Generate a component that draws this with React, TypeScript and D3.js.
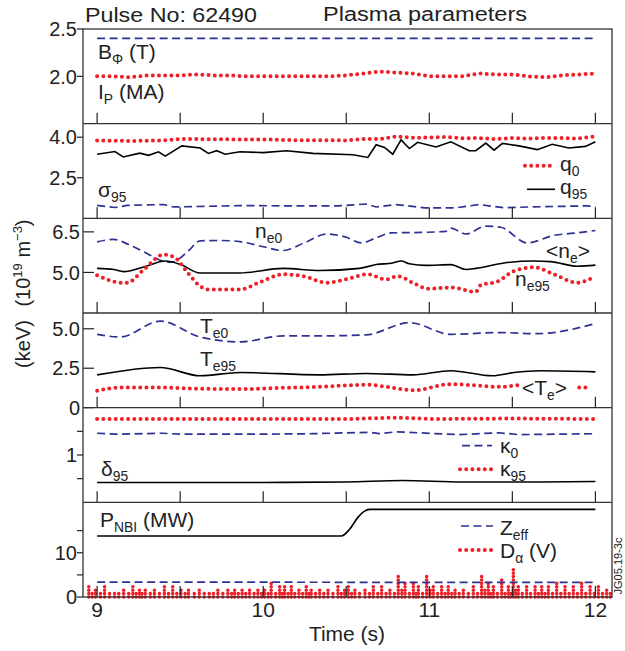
import * as d3 from 'd3';

const FONT = 'Liberation Sans, Arial, Helvetica, sans-serif';
const RED = '#ee1f26';
const BLUE = '#2e3192';

// time base (s)
const t01 = [9.0, 9.1, 9.2, 9.3, 9.4, 9.5, 9.6, 9.7, 9.8, 9.9, 10.0, 10.1, 10.2, 10.3, 10.4, 10.5,
  10.6, 10.7, 10.8, 10.9, 11.0, 11.1, 11.2, 11.3, 11.4, 11.5, 11.6, 11.7, 11.8, 11.9, 12.0];
const timeLabels = [9, 10, 11, 12];
const timeTicks = [9, 9.5, 10, 10.5, 11, 11.5, 12];

// panel 1: B_phi (T), I_P (MA)
const bphiT = [9, 9.5, 10, 10.5, 11, 11.5, 12];
const bphiV = [2.4, 2.4, 2.4, 2.4, 2.4, 2.4, 2.4];
const ipV = [2.0, 2.0, 1.99, 2.01, 2.01, 2.01, 2.02, 2.01, 2.01, 2.0, 2.0, 2.0, 2.0, 2.0, 2.0, 2.01,
  2.03, 2.05, 2.04, 2.03, 2.0, 2.0, 2.0, 2.03, 2.02, 2.02, 2.0, 1.99, 2.01, 2.02, 2.03];

// panel 2: q0, q95, sigma95
const q0V = [3.88, 3.87, 3.86, 3.87, 3.88, 3.93, 3.93, 3.92, 3.92, 3.91, 3.92, 3.9, 3.89, 3.89, 3.89, 3.88,
  3.93, 3.93, 4.03, 3.98, 3.99, 4.01, 3.96, 3.97, 3.93, 3.97, 3.95, 3.97, 3.97, 3.95, 4.03];
const q95T = [9.0, 9.107, 9.157, 9.257, 9.31, 9.37, 9.41, 9.51, 9.62, 9.67, 9.72, 9.77, 9.86, 10.0, 10.14,
  10.3, 10.54, 10.63, 10.68, 10.73, 10.78, 10.83, 10.88, 10.93, 11.04, 11.13, 11.24, 11.28, 11.34, 11.39,
  11.44, 11.54, 11.65, 11.74, 11.84, 11.94, 12.0];
const q95V = [3.37, 3.47, 3.27, 3.41, 3.33, 3.46, 3.3, 3.68, 3.6, 3.4, 3.5, 3.37, 3.46, 3.43, 3.5,
  3.4, 3.35, 3.25, 3.72, 3.62, 3.37, 3.9, 3.58, 3.81, 3.64, 3.83, 3.5, 3.5, 3.78, 3.52,
  3.77, 3.68, 3.54, 3.74, 3.6, 3.66, 3.83];
const sigT = [9.0, 9.11, 9.18, 9.4, 9.46, 9.86, 10.2, 10.45, 10.62, 10.68, 10.8, 10.97, 11.16, 11.3, 11.45, 11.6, 11.95, 12.0];
const sigV = [1.48, 1.4, 1.48, 1.51, 1.42, 1.47, 1.46, 1.46, 1.53, 1.42, 1.51, 1.39, 1.39, 1.51, 1.39, 1.42, 1.46, 1.43];

// panel 3: densities (1e19 m^-3)
const ne0T = [9.0, 9.1, 9.2, 9.3, 9.38, 9.45, 9.55, 9.62, 9.75, 9.86, 10.0, 10.12, 10.25, 10.38, 10.5, 10.59,
  10.68, 10.77, 10.95, 11.1, 11.13, 11.22, 11.34, 11.43, 11.59, 11.75, 11.87, 12.0];
const ne0V = [6.13, 6.22, 6.0, 5.7, 5.45, 5.38, 5.8, 6.17, 6.18, 6.14, 5.95, 5.81, 6.1, 6.42, 6.3, 6.09,
  6.28, 6.46, 6.48, 6.52, 6.64, 6.42, 6.71, 6.67, 6.09, 6.37, 6.45, 6.55];
const neAvgT = [9.0, 9.1, 9.16, 9.28, 9.41, 9.5, 9.62, 9.86, 10.12, 10.34, 10.58, 10.68, 10.78, 10.83, 10.88,
  10.98, 11.13, 11.22, 11.28, 11.45, 11.63, 11.73, 11.89, 12.0];
const neAvgV = [5.15, 5.11, 5.03, 5.2, 5.42, 5.3, 4.98, 4.98, 5.15, 5.07, 5.15, 5.29, 5.35, 5.42, 5.32,
  5.26, 5.29, 5.11, 5.15, 5.35, 5.42, 5.4, 5.23, 5.27];
const ne95T = [9.0, 9.07, 9.14, 9.18, 9.28, 9.4, 9.46, 9.55, 9.62, 9.67, 9.86, 9.98, 10.12, 10.25, 10.38, 10.5,
  10.63, 10.74, 10.81, 10.9, 10.99, 11.14, 11.28, 11.31, 11.41, 11.51, 11.63, 11.75, 11.89, 12.0];
const ne95V = [4.9, 4.72, 4.62, 4.62, 5.1, 5.66, 5.58, 4.95, 4.49, 4.37, 4.37, 4.64, 4.93, 4.85, 4.62, 4.75,
  4.93, 4.74, 4.86, 4.62, 4.4, 4.44, 4.28, 4.53, 4.66, 5.05, 5.19, 4.93, 4.62, 4.86];

// panel 4: temperatures (keV)
const te0T = [9.0, 9.14, 9.38, 9.62, 9.86, 10.12, 10.34, 10.62, 10.88, 11.13, 11.43, 11.65, 12.0];
const te0V = [4.65, 4.48, 5.49, 4.48, 4.17, 4.55, 4.55, 4.61, 5.39, 4.65, 4.76, 4.69, 5.33];
const te95T = [9.0, 9.38, 9.62, 9.86, 10.34, 10.62, 10.9, 11.13, 11.38, 11.51, 11.67, 12.0];
const te95V = [2.08, 2.55, 2.02, 2.23, 2.08, 2.17, 2.08, 2.34, 2.02, 2.23, 2.34, 2.27];
const teAvgT = [9.0, 9.14, 9.38, 9.62, 9.86, 10.1, 10.34, 10.62, 10.91, 11.13, 11.43, 11.57, 11.75, 11.97];
const teAvgV = [1.07, 1.28, 1.28, 1.2, 1.18, 1.25, 1.32, 1.45, 1.11, 1.49, 1.32, 1.45, 1.3, 1.28];

// panel 5: shape
const kap95T = [9, 9.5, 10, 10.5, 10.8, 11, 11.5, 12];
const kap95V = [1.76, 1.76, 1.76, 1.76, 1.79, 1.76, 1.77, 1.76];
const kap0T = [9.0, 9.11, 9.39, 9.5, 10.0, 10.3, 10.64, 10.7, 10.8, 11.18, 11.42, 11.54, 12.0];
const kap0V = [1.46, 1.44, 1.46, 1.44, 1.44, 1.45, 1.48, 1.45, 1.49, 1.43, 1.47, 1.43, 1.45];
const del95T = [9, 9.5, 10, 10.5, 10.84, 11.2, 11.6, 12];
const del95V = [0.42, 0.42, 0.42, 0.43, 0.46, 0.43, 0.43, 0.44];

// panel 6: heating, Zeff, D-alpha
const pnbiT = [9.0, 10.47, 10.52, 10.57, 10.61, 10.64, 12.0];
const pnbiV = [13.8, 13.8, 15.3, 18.0, 19.4, 19.8, 19.8];
const zeffT = [9, 10, 11, 12];
const zeffV = [3.35, 3.35, 3.3, 3.3];
const dalphaT = [8.95, 8.97, 8.99, 9.02, 9.045, 9.075, 9.105, 9.13, 9.16, 9.19,
  9.215, 9.235, 9.255, 9.27, 9.29, 9.32, 9.345, 9.375, 9.405, 9.43,
  9.455, 9.48, 9.505, 9.53, 9.55, 9.585, 9.615, 9.645, 9.675, 9.7,
  9.727, 9.757, 9.787, 9.81, 9.828, 9.85, 9.873, 9.895, 9.918, 9.945,
  9.968, 9.99, 10.008, 10.03, 10.048, 10.075, 10.099, 10.115, 10.129, 10.15,
  10.169, 10.19, 10.215, 10.237, 10.259, 10.275, 10.289, 10.315, 10.34, 10.365,
  10.39, 10.42, 10.45, 10.47, 10.49,
  10.512, 10.532, 10.552, 10.58, 10.613, 10.64, 10.663, 10.69, 10.713, 10.74,
  10.763, 10.79, 10.813, 10.835, 10.854, 10.88, 10.904, 10.92, 10.934, 10.96,
  10.984, 11.005, 11.024, 11.05, 11.074, 11.095, 11.114, 11.135, 11.155, 11.18,
  11.205, 11.235, 11.265, 11.29, 11.315, 11.335, 11.355, 11.37, 11.386, 11.41,
  11.436, 11.456, 11.476, 11.49, 11.506, 11.52, 11.536, 11.56, 11.586, 11.61,
  11.637, 11.657, 11.677, 11.697, 11.717, 11.742, 11.767, 11.792, 11.817, 11.842,
  11.867, 11.892, 11.917, 11.942, 11.968, 11.993, 12.018, 12.043, 12.068, 12.09];
const dalphaV = [2.56, 1.0, 1.96, 1.1, 2.56, 0.9, 1.35, 1.0, 1.73, 0.9,
  2.86, 1.0, 1.96, 0.8, 1.58, 1.0, 1.96, 0.9, 2.56, 1.1,
  2.56, 0.9, 1.58, 1.0, 1.96, 0.9, 1.73, 1.0, 1.2, 0.9,
  2.18, 1.0, 2.18, 0.9, 1.58, 1.0, 1.96, 0.9, 1.96, 1.1,
  2.18, 1.0, 1.96, 1.2, 3.46, 1.0, 2.33, 1.1, 2.33, 1.0,
  2.56, 1.2, 2.18, 1.0, 2.33, 1.1, 1.96, 1.0, 1.96, 1.1,
  2.18, 1.0, 2.33, 1.1, 1.96,
  2.33, 1.3, 1.96, 1.2, 1.96, 1.4, 2.33, 1.3, 2.33, 1.5,
  1.96, 1.3, 4.81, 1.6, 3.46, 1.4, 3.84, 1.5, 2.71, 1.3,
  5.11, 1.6, 2.33, 1.4, 2.71, 1.5, 2.56, 1.3, 1.96, 1.2,
  1.96, 1.4, 2.71, 1.5, 5.34, 1.6, 3.84, 1.4, 2.86, 1.3,
  4.21, 1.5, 2.71, 1.4, 6.47, 1.6, 2.71, 1.3, 2.33, 1.4,
  2.33, 1.3, 2.86, 1.5, 2.56, 1.4, 3.84, 1.3, 2.71, 1.4,
  2.33, 1.5, 3.46, 1.3, 2.71, 1.4, 2.33, 1.3, 1.96, 1.2];

const zip = (ts, vs) => ts.map((t, i) => [t, vs[i]]);

const panels = [
  { domain: [1.5, 2.5], ticks: [2.5, 2.0], minor: [], fmt: '.1f', dir: 'out', series: [
    { d: zip(bphiT, bphiV), s: 'dash' },
    { d: zip(t01, ipV), s: 'dot' },
  ] },
  { domain: [1, 4.5], ticks: [4.0, 2.5], minor: [], fmt: '.1f', dir: 'out', series: [
    { d: zip(t01, q0V), s: 'dot' },
    { d: zip(q95T, q95V), s: 'solid' },
    { d: zip(sigT, sigV), s: 'dash' },
  ] },
  { domain: [3.5, 7], ticks: [6.5, 5.0], minor: [], fmt: '.1f', dir: 'in', series: [
    { d: zip(ne0T, ne0V), s: 'dash', smooth: true },
    { d: zip(neAvgT, neAvgV), s: 'solid', smooth: true },
    { d: zip(ne95T, ne95V), s: 'dot', smooth: true },
  ] },
  { domain: [0, 6], ticks: [5.0, 2.5, 0], minor: [], fmt: '.1f', dir: 'in', series: [
    { d: zip(te0T, te0V), s: 'dash', smooth: true },
    { d: zip(te95T, te95V), s: 'solid', smooth: true },
    { d: zip(teAvgT, teAvgV), s: 'dot', smooth: true },
  ] },
  { domain: [0, 2], ticks: [1], minor: [0.5, 1.5], fmt: 'd', dir: 'out', series: [
    { d: zip(kap95T, kap95V), s: 'dot' },
    { d: zip(kap0T, kap0V), s: 'dash' },
    { d: zip(del95T, del95V), s: 'solid', smooth: true },
  ] },
  { domain: [0, 21.4], ticks: [10, 0], minor: [5, 15], fmt: 'd', dir: 'out', series: [
    { d: zip(pnbiT, pnbiV), s: 'solid', smooth: true },
  ] },
];

const styles = {
  dash: { stroke: BLUE, strokeWidth: 1.7, strokeDasharray: '8 4.5', fill: 'none' },
  dot: { stroke: RED, strokeWidth: 4, strokeDasharray: '0 6.2', strokeLinecap: 'round', fill: 'none' },
  solid: { stroke: '#000', strokeWidth: 1.6, fill: 'none' },
};

const TOP = 29;
const BOTTOM = 597;
const LEFT = 83;
const RIGHT = 612;
const PH = (BOTTOM - TOP) / 6;

function Lbl({ x, y, main, sub, rest = '', size = 21, anchor = 'start' }) {
  return (
    <text x={x} y={y} fontSize={size} fontFamily={FONT} fill="#222" textAnchor={anchor}>
      {main}
      {sub && <tspan fontSize={size * 0.66} dy={5}>{sub}</tspan>}
      {rest && <tspan dy={sub ? -5 : 0}>{rest}</tspan>}
    </text>
  );
}

export default function App() {
  const x = d3.scaleLinear().domain([8.915, 12.1]).range([LEFT, RIGHT]);
  const ys = panels.map((p, i) =>
    d3.scaleLinear().domain(p.domain).range([TOP + (i + 1) * PH, TOP + i * PH]));
  const yDa = ys[5];

  const path = (data, y, smooth) =>
    d3.line().x((d) => x(d[0])).y((d) => y(d[1])).curve(smooth ? d3.curveMonotoneX : d3.curveLinear)(data);

  return (
    <svg width={625} height={651} style={{ position: 'absolute', left: 0, top: 0, background: '#fff' }}>
      <rect width={625} height={651} fill="#fff" />
      {/* titles */}
      <text x={85} y={22} fontSize={20} fontFamily={FONT} fill="#222" textLength={172} lengthAdjust="spacingAndGlyphs">Pulse No: 62490</text>
      <text x={323} y={21} fontSize={20} fontFamily={FONT} fill="#222" textLength={204} lengthAdjust="spacingAndGlyphs">Plasma parameters</text>

      {/* D-alpha stems */}
      <g>
        {zip(dalphaT, dalphaV).map(([t, v], i) => (
          <line key={i} x1={x(t)} x2={x(t)} y1={yDa(0)} y2={yDa(v)}
            stroke={RED} strokeWidth={3.6} strokeDasharray="0 3.4" strokeLinecap="round" />
        ))}
      </g>
      <path d={path(zip(zeffT, zeffV), yDa, false)} {...styles.dash} />

      {panels.map((p, i) => {
        const y = ys[i];
        const bottom = TOP + (i + 1) * PH;
        return (
          <g key={i}>
            {p.series.map((s, j) => (
              <path key={j} d={path(s.d, y, s.smooth)} {...styles[s.s]} />
            ))}
            {/* time ticks */}
            {timeTicks.map((t) => (
              <line key={t} x1={x(t)} x2={x(t)} y1={bottom} y2={bottom - 11} stroke="#222" strokeWidth={1.2} />
            ))}
            {/* y ticks */}
            {[...p.ticks, ...p.minor].map((v) => (
              <line key={'t' + v} x1={p.dir === 'out' ? LEFT - 6 : LEFT} x2={p.dir === 'out' ? LEFT : LEFT + 11}
                y1={y(v)} y2={y(v)} stroke="#222" strokeWidth={1.2} />
            ))}
            {p.ticks.map((v) => (
              <text key={'l' + v} x={p.dir === 'out' ? 77 : 80} y={y(v)} dy="0.36em" textAnchor="end"
                fontSize={20} fontFamily={FONT} fill="#222">
                {v === 0 ? '0' : d3.format(p.fmt)(v)}
              </text>
            ))}
          </g>
        );
      })}

      {/* mask behind <Te> label */}
      <rect x={520} y={379} width={57} height={22} fill="#fff" />

      {/* frame */}
      <g stroke="#333" strokeWidth={1.3} fill="none">
        <rect x={LEFT} y={TOP} width={RIGHT - LEFT} height={BOTTOM - TOP} />
        {[1, 2, 3, 4, 5].map((i) => (
          <line key={i} x1={LEFT} x2={RIGHT} y1={TOP + i * PH} y2={TOP + i * PH} />
        ))}
      </g>

      {/* panel labels */}
      <Lbl x={98} y={58.5} main="B" sub="Φ" rest=" (T)" />
      <Lbl x={98} y={99} main="I" sub="P" rest=" (MA)" />
      <Lbl x={98} y={196.5} main="σ" sub="95" />
      <line x1={525} x2={552} y1={165.7} y2={165.7} {...styles.dot} />
      <Lbl x={560} y={170.5} main="q" sub="0" />
      <line x1={527} x2={555} y1={189.3} y2={189.3} {...styles.solid} />
      <Lbl x={560} y={194} main="q" sub="95" />

      <Lbl x={255} y={238.3} main="n" sub="e0" />
      <Lbl x={546} y={258} main="<n" sub="e" rest=">" />
      <Lbl x={515} y={286} main="n" sub="e95" />

      <Lbl x={200} y={333} main="T" sub="e0" />
      <Lbl x={200} y={366} main="T" sub="e95" />
      <Lbl x={522} y={395} main="<T" sub="e" rest=">" />

      <Lbl x={101} y={476} main="δ" sub="95" />
      <line x1={462} x2={492} y1={445.7} y2={445.7} {...styles.dash} />
      <Lbl x={500} y={453} main="κ" sub="0" />
      <line x1={460} x2={492} y1={469.3} y2={469.3} {...styles.dot} />
      <Lbl x={500} y={476} main="κ" sub="95" />

      <Lbl x={100} y={527} main="P" sub="NBI" rest="  (MW)" />
      <line x1={461} x2={493} y1={526} y2={526} {...styles.dash} />
      <Lbl x={500} y={535} main="Z" sub="eff" />
      <line x1={460} x2={492} y1={550} y2={550} {...styles.dot} />
      <Lbl x={500} y={558} main="D" sub="α" rest=" (V)" />

      {/* x axis labels */}
      {timeLabels.map((t) => (
        <text key={t} x={x(t)} y={617} textAnchor="middle" fontSize={21} fontFamily={FONT} fill="#222">{t}</text>
      ))}
      <text x={347} y={641} textAnchor="middle" fontSize={21} fontFamily={FONT} fill="#222">Time (s)</text>

      {/* left unit labels */}
      <text transform="translate(30,344) rotate(-90)" textAnchor="middle" fontSize={20} fontFamily={FONT} fill="#222">(keV)</text>
      <text transform="translate(30,263) rotate(-90)" textAnchor="middle" fontSize={20} fontFamily={FONT} fill="#222">
        (10<tspan fontSize={13} dy={-8}>19</tspan><tspan dy={8}> m</tspan><tspan fontSize={13} dy={-8}>−3</tspan><tspan dy={8}>)</tspan>
      </text>

      <text transform="translate(622,566) rotate(-90)" textAnchor="middle" fontSize={11} fontFamily={FONT} fill="#222">JG05.19-3c</text>
    </svg>
  );
}
